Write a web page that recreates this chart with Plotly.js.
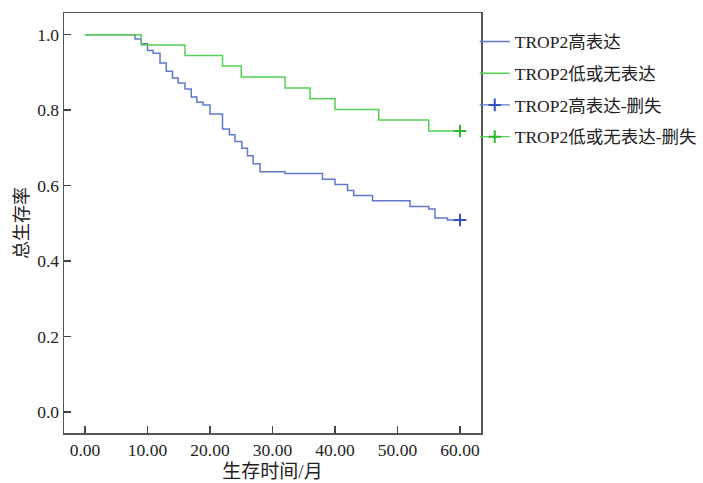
<!DOCTYPE html>
<html>
<head>
<meta charset="utf-8">
<script src="https://cdn.plot.ly/plotly-3.0.1.min.js"></script>
<style>html,body{margin:0;padding:0;background:#fff}</style>
</head>
<body>
<div id="chart" style="width:703px;height:483px"></div>
<script>
// Kaplan-Meier step data
var blueT = [0, 8.0, 9.0, 10.0, 10.9, 12.0, 13.0, 14.0, 14.9, 16.0, 17.0, 17.9, 18.9, 20.0, 22.0, 23.1, 24.0, 25.1, 26.0, 26.9, 28.0, 32.0, 38.0, 40.0, 42.0, 43.0, 46.0, 52.0, 55.0, 56.0, 58.0, 60];
var blueS = [1, 0.989, 0.976, 0.958, 0.951, 0.925, 0.903, 0.885, 0.872, 0.856, 0.835, 0.821, 0.814, 0.790, 0.750, 0.735, 0.717, 0.699, 0.679, 0.658, 0.637, 0.632, 0.617, 0.603, 0.587, 0.574, 0.560, 0.545, 0.538, 0.514, 0.509, 0.509];
var greenT = [0, 9.0, 16.0, 22.0, 25.0, 32.0, 36.0, 40.0, 47.0, 55.0, 60];
var greenS = [1, 0.973, 0.945, 0.917, 0.888, 0.859, 0.830, 0.802, 0.774, 0.745, 0.745];
var blueCensT = [60], blueCensS = [0.509];
var greenCensT = [60], greenCensS = [0.745];
var seriesNames = ["TROP2高表达", "TROP2低或无表达", "TROP2高表达-删失", "TROP2低或无表达-删失"];
var xTicks = [0, 10, 20, 30, 40, 50, 60];
var xTickText = ["0.00", "10.00", "20.00", "30.00", "40.00", "50.00", "60.00"];
var yTicks = [0, 0.2, 0.4, 0.6, 0.8, 1.0];
var yTickText = ["0.0", "0.2", "0.4", "0.6", "0.8", "1.0"];

var blueLine = "#5f78cc", greenLine = "#55d055";
var blueMark = "#3552b8", greenMark = "#2db82d";
var FONT = "Liberation Serif, Noto Sans CJK SC, serif";

var traces = [
  {x: blueT, y: blueS, name: seriesNames[0], mode: "lines", line: {shape: "hv", color: blueLine, width: 1.5}, legendgroup: "a"},
  {x: greenT, y: greenS, name: seriesNames[1], mode: "lines", line: {shape: "hv", color: greenLine, width: 1.5}, legendgroup: "b"},
  {x: blueCensT, y: blueCensS, name: seriesNames[2], mode: "lines+markers", line: {color: blueLine, width: 1.2},
   marker: {symbol: "cross-thin", size: 9, line: {color: blueMark, width: 2}}, legendgroup: "c"},
  {x: greenCensT, y: greenCensS, name: seriesNames[3], mode: "lines+markers", line: {color: greenLine, width: 1.2},
   marker: {symbol: "cross-thin", size: 9, line: {color: greenMark, width: 2}}, legendgroup: "d"}
];

var layout = {
  width: 703, height: 483,
  margin: {l: 64, r: 222, t: 13, b: 50, autoexpand: false},
  paper_bgcolor: "#fff", plot_bgcolor: "#fff",
  font: {family: FONT, color: "#222", size: 17.5},
  showlegend: true,
  legend: {x: 0.985, xanchor: "left", y: 0.975, yanchor: "top", font: {family: FONT, size: 17.5, color: "#222"},
           tracegroupgap: 6, itemwidth: 30, bgcolor: "rgba(0,0,0,0)"},
  xaxis: {range: [-3.36, 63.36], tickvals: xTicks, ticktext: xTickText, ticks: "inside", ticklen: 7, tickwidth: 1.5,
          tickcolor: "#444", showline: true, linecolor: "#555", linewidth: 1.5, mirror: true, showgrid: false, zeroline: false,
          automargin: false,
          tickfont: {family: FONT, size: 17.5, color: "#222"},
          title: {text: "生存时间/月", font: {family: FONT, size: 19, color: "#222"}, standoff: 6}},
  yaxis: {range: [-0.0557, 1.0576], tickvals: yTicks, ticktext: yTickText, ticks: "inside", ticklen: 7, tickwidth: 1.5,
          tickcolor: "#444", showline: true, linecolor: "#555", linewidth: 1.5, mirror: true, showgrid: false, zeroline: false,
          automargin: false,
          tickfont: {family: FONT, size: 17.5, color: "#222"},
          title: {text: "总生存率", font: {family: FONT, size: 18, color: "#222"}, standoff: 4}}
};

Plotly.newPlot("chart", traces, layout, {displayModeBar: false, staticPlot: true});
</script>
</body>
</html>
